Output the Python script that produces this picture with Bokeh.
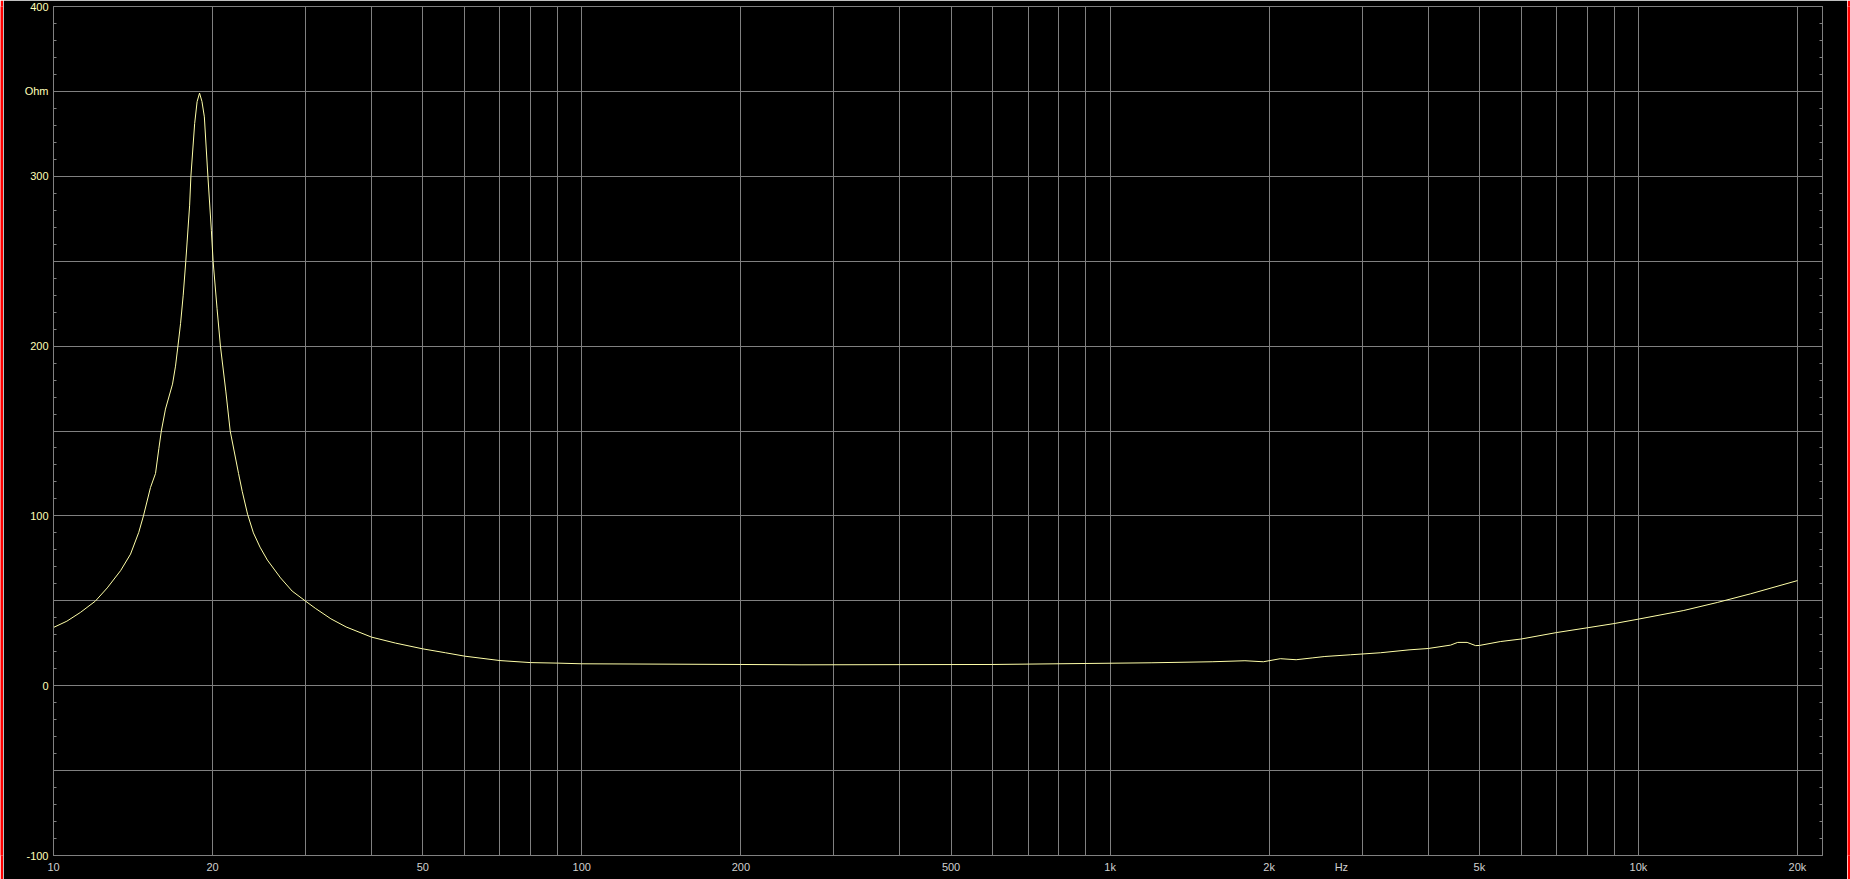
from bokeh.plotting import figure
from bokeh.layouts import row
from bokeh.models import FixedTicker, LinearAxis, Range1d
from bokeh.embed import file_html
from bokeh.resources import INLINE

# ---- data (impedance curve) ----
freq_hz = [10, 10.6, 11.25, 12.0, 12.64, 13.4, 13.99, 14.5, 14.8, 15.26, 15.6, 15.83,
           16.0, 16.29, 16.8, 17.02, 17.2, 17.4, 17.6, 17.8, 18.1, 18.2,
           18.5, 18.7, 18.9, 19.1, 19.3, 19.6, 19.9, 20.05, 20.4, 20.7, 21.2, 21.6,
           22.4, 22.76, 23.3, 23.9, 24.6, 25.4, 26.9, 28.3, 30, 31.3, 33.5, 35.8, 40,
           44.4, 50, 55.2, 60, 70, 80, 90, 100, 200,
           260, 600, 1200, 1560, 1800, 1950, 2100, 2250, 2420, 2550, 2850, 3250, 3680,
           4000, 4410, 4550, 4740, 4920, 5000, 5480, 6000, 7000, 8000, 9000, 10000,
           12190, 14100, 16300, 20000]
impedance_ohm = [34.3, 38.0, 43.2, 49.8, 57.6, 67.8, 77.5, 90.3, 100, 116.7, 125, 139.8,
                 150, 162.9, 177.6, 188.2, 200, 213.4, 230, 250, 283, 300,
                 331, 344, 349, 344, 335, 300, 268, 250, 222, 200, 173, 150,
                 125, 114.5, 101, 90.0, 81.6, 74.0, 63.5, 55.7, 49.8, 45.6, 39.4, 34.6, 28.6,
                 25.1, 21.7, 19.4, 17.4, 14.8, 13.6, 13.3, 12.9, 12.5,
                 12.3, 12.5, 13.5, 14.1, 14.7, 14.1, 15.9, 15.3, 16.4, 17.2, 18.2, 19.4, 21.1,
                 21.9, 23.9, 25.5, 25.5, 23.6, 23.7, 26.0, 27.5, 31.3, 34.1, 36.6, 39.2,
                 44.3, 49.0, 54.1, 61.9]

# ---- axes / ticks ----
x_tick_values = [10, 20, 50, 100, 200, 500, 1000, 2000, 2740, 5000, 10000, 20000]
x_tick_labels = ["10", "20", "50", "100", "200", "500", "1k", "2k", "Hz", "5k", "10k", "20k"]
x_grid_values = [10, 20, 30, 40, 50, 60, 70, 80, 90,
                 100, 200, 300, 400, 500, 600, 700, 800, 900,
                 1000, 2000, 3000, 4000, 5000, 6000, 7000, 8000, 9000,
                 10000, 20000]
y_tick_values = [-100, -50, 0, 50, 100, 150, 200, 250, 300, 350, 400]
y_tick_labels = ["-100", "", "0", "", "100", "", "200", "", "300", "Ohm", "400"]
y_minor_values = list(range(-100, 401, 10))

FONT = "Liberation Sans"
GRID = "#808080"
H = 879


def edge(width):
    e = figure(width=width, height=H, toolbar_location=None, output_backend="svg",
               min_border=0, x_axis_location=None, y_axis_location=None,
               background_fill_color="#ff0000", border_fill_color="#ff0000",
               outline_line_color=None, x_range=Range1d(0, 1), y_range=Range1d(0, 1))
    e.grid.visible = False
    e.scatter([0.5], [0.5], size=0, alpha=0)
    return e


p = figure(width=1844, height=H, x_axis_type="log",
           x_range=Range1d(10, 22310), y_range=Range1d(-100, 400),
           output_backend="svg", toolbar_location=None,
           background_fill_color="black", border_fill_color="black",
           min_border_left=50, min_border_right=25, min_border_top=6, min_border_bottom=24)

p.outline_line_color = GRID
p.outline_line_width = 1

# x axis
xa = p.xaxis[0]
xa.ticker = FixedTicker(ticks=x_tick_values)
xa.major_label_overrides = {v: s for v, s in zip(x_tick_values, x_tick_labels)}
xa.major_tick_line_color = None
xa.minor_tick_line_color = None
xa.major_tick_in = 0
xa.major_tick_out = 0
xa.minor_tick_in = 0
xa.minor_tick_out = 0
xa.axis_line_color = GRID
xa.major_label_text_color = "#d0d0d0"
xa.major_label_text_font = FONT
xa.major_label_text_font_size = "11px"
xa.major_label_standoff = 5

# y axis
ya = p.yaxis[0]
ya.ticker = FixedTicker(ticks=y_tick_values, minor_ticks=y_minor_values)
ya.major_label_overrides = {v: s for v, s in zip(y_tick_values, y_tick_labels)}
ya.major_tick_line_color = None
ya.major_tick_in = 0
ya.major_tick_out = 0
ya.minor_tick_in = 3
ya.minor_tick_out = 0
ya.minor_tick_line_color = GRID
ya.axis_line_color = GRID
ya.major_label_text_color = "#ffffb8"
ya.major_label_text_font = FONT
ya.major_label_text_font_size = "11px"
ya.major_label_standoff = 5

# right axis with inner minor ticks only
ra = LinearAxis(ticker=FixedTicker(ticks=y_tick_values, minor_ticks=y_minor_values),
                major_label_overrides={v: "" for v in y_tick_values},
                major_tick_line_color=None, major_tick_in=0, major_tick_out=0,
                minor_tick_in=3, minor_tick_out=0,
                minor_tick_line_color=GRID, axis_line_color=GRID,
                major_label_text_font_size="1px", major_label_standoff=0)
p.add_layout(ra, "right")

# grids
p.xgrid.ticker = FixedTicker(ticks=x_grid_values)
p.xgrid.grid_line_color = GRID
p.ygrid.ticker = FixedTicker(ticks=y_tick_values)
p.ygrid.grid_line_color = GRID

# curve
p.line(freq_hz, impedance_ohm, line_color="#ffffa8", line_width=1)

layout = row(edge(3), p, edge(3))

open("out.html", "w").write(file_html(layout, INLINE))
